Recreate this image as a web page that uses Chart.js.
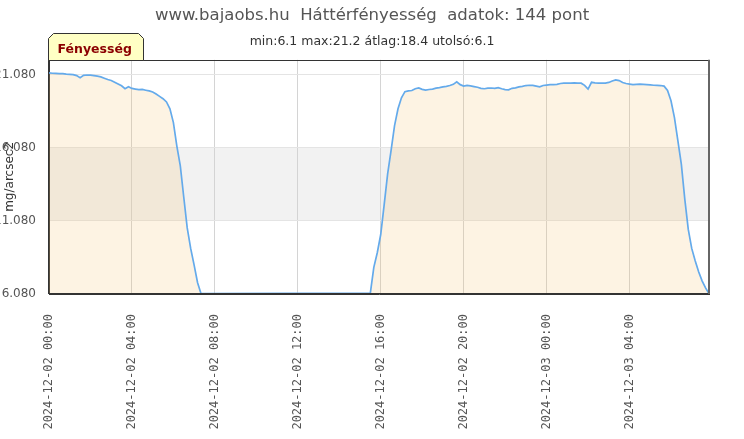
<!DOCTYPE html>
<html lang="hu">
<head>
  <meta charset="UTF-8">
  <title>Háttérfényesség</title>
  <script src="https://cdn.jsdelivr.net/npm/chart.js"></script>
  <style>
    html, body { margin: 0; padding: 0; background: #fff; }
  </style>
</head>
<body>
  <canvas id="graficoFenyesseg" width="744" height="439"></canvas>

  <script>
    // 2024-12-02: reggelig + délután 15:30-tól
    const day02Times = [
      "00:00", "00:10", "00:20", "00:30", "00:40", "00:50",
      "01:00", "01:10", "01:20", "01:30", "01:40", "01:50",
      "02:00", "02:10", "02:20", "02:30", "02:40", "02:50",
      "03:00", "03:10", "03:20", "03:30", "03:40", "03:50",
      "04:00", "04:10", "04:20", "04:30", "04:40", "04:50",
      "05:00", "05:10", "05:20", "05:30", "05:40", "05:50",
      "06:00", "06:10", "06:20", "06:30", "06:40", "06:50",
      "07:00", "07:10", "07:20",
      "15:30", "15:40", "15:50",
      "16:00", "16:10", "16:20", "16:30", "16:40", "16:50",
      "17:00", "17:10", "17:20", "17:30", "17:40", "17:50",
      "18:00", "18:10", "18:20", "18:30", "18:40", "18:50",
      "19:00", "19:10", "19:20", "19:30", "19:40", "19:50",
      "20:00", "20:10", "20:20", "20:30", "20:40", "20:50",
      "21:00", "21:10", "21:20", "21:30", "21:40", "21:50",
      "22:00", "22:10", "22:20", "22:30", "22:40", "22:50",
      "23:00", "23:10", "23:20", "23:30", "23:40", "23:50"
    ];
    const day02Values = [
      21.20, 21.18, 21.17, 21.15, 21.15, 21.12, 21.10, 21.08, 21.02, 20.88,
      21.04, 21.06, 21.05, 21.02, 20.98, 20.93, 20.84, 20.75, 20.68, 20.57,
      20.45, 20.32, 20.12, 20.26, 20.14, 20.10, 20.06, 20.07, 20.02, 19.97,
      19.90, 19.76, 19.60, 19.44, 19.22, 18.75, 17.80, 16.20, 14.85, 12.70,
      10.60, 9.20, 8.05, 6.85, 6.10,
      6.15, 7.90, 8.90, 10.15, 12.20, 14.30, 15.90, 17.60, 18.75, 19.50,
      19.92, 19.97, 20.00, 20.12, 20.18, 20.08, 20.03, 20.07, 20.10, 20.16,
      20.20, 20.25, 20.28, 20.34, 20.42, 20.60, 20.40, 20.30, 20.35, 20.32,
      20.27, 20.22, 20.15, 20.12, 20.16, 20.17, 20.15, 20.20, 20.12, 20.06,
      20.05, 20.15, 20.18, 20.25, 20.28, 20.34, 20.36, 20.35, 20.30, 20.25,
      20.34
    ];

    // 2024-12-03
    const day03Times = [
      "00:00", "00:10", "00:20", "00:30", "00:40", "00:50",
      "01:00", "01:10", "01:20", "01:30", "01:40", "01:50",
      "02:00", "02:10", "02:20", "02:30", "02:40", "02:50",
      "03:00", "03:10", "03:20", "03:30", "03:40", "03:50",
      "04:00", "04:10", "04:20", "04:30", "04:40", "04:50",
      "05:00", "05:10", "05:20", "05:30", "05:40", "05:50",
      "06:00", "06:10", "06:20", "06:30", "06:40", "06:50",
      "07:00", "07:10", "07:20", "07:30", "07:40", "07:50"
    ];
    const day03Values = [
      20.37, 20.40, 20.40, 20.42, 20.48, 20.50, 20.51, 20.51, 20.52, 20.51,
      20.50, 20.35, 20.10, 20.56, 20.52, 20.51, 20.50, 20.51, 20.55, 20.65,
      20.72, 20.68, 20.55, 20.48, 20.44, 20.40, 20.42, 20.44, 20.42, 20.40,
      20.38, 20.36, 20.35, 20.34, 20.30, 20.00, 19.30, 18.15, 16.55, 14.95,
      12.55, 10.50, 9.20, 8.35, 7.60, 6.98, 6.50, 6.10
    ];

    const yTicks = [6.08, 11.08, 16.08, 21.08];
    const xTickHours = [0, 4, 8, 12, 16, 20, 24, 28];
    const xTickLabels = [
      "2024-12-02 00:00", "2024-12-02 04:00", "2024-12-02 08:00", "2024-12-02 12:00",
      "2024-12-02 16:00", "2024-12-02 20:00", "2024-12-03 00:00", "2024-12-03 04:00"
    ];

    function toHours(day, hhmm) {
      const p = hhmm.split(":");
      return day * 24 + Number(p[0]) + Number(p[1]) / 60;
    }

    const pontok = [];
    for (let i = 0; i < day02Times.length; i++) {
      pontok.push({ x: toHours(0, day02Times[i]), y: day02Values[i] });
    }
    for (let i = 0; i < day03Times.length; i++) {
      pontok.push({ x: toHours(1, day03Times[i]), y: day03Values[i] });
    }

    // szürke sáv a rácsvonalak között
    const savok = {
      id: "savok",
      beforeDraw(chart) {
        const ctx = chart.ctx;
        const a = chart.chartArea;
        const y = chart.scales.y;
        ctx.save();
        ctx.fillStyle = "#f2f2f2";
        for (let i = 1; i < yTicks.length - 1; i += 2) {
          const top = y.getPixelForValue(yTicks[i + 1]);
          const bottom = y.getPixelForValue(yTicks[i]);
          ctx.fillRect(a.left, top, a.right - a.left, bottom - top);
        }
        ctx.restore();
      }
    };

    // keret + "Fényesség" fül
    const keret = {
      id: "keret",
      afterDraw(chart) {
        const ctx = chart.ctx;
        const a = chart.chartArea;
        ctx.save();
        ctx.strokeStyle = "#333";
        ctx.lineWidth = 1;
        ctx.strokeRect(Math.round(a.left) - 0.5, Math.round(a.top) + 0.5,
          Math.round(a.right - a.left), Math.round(a.bottom - a.top) - 1);
        ctx.strokeStyle = "#666";
        ctx.lineWidth = 2;
        ctx.beginPath();
        ctx.moveTo(Math.round(a.right), a.top);
        ctx.lineTo(Math.round(a.right), a.bottom);
        ctx.stroke();

        const l = Math.round(a.left) - 0.5, t = Math.round(a.top) + 0.5;
        ctx.beginPath();
        ctx.moveTo(l, t);
        ctx.lineTo(l, t - 22);
        ctx.lineTo(l + 5, t - 27);
        ctx.lineTo(l + 90, t - 27);
        ctx.lineTo(l + 95, t - 22);
        ctx.lineTo(l + 95, t);
        ctx.closePath();
        ctx.fillStyle = "#ffffc4";
        ctx.fill();
        ctx.strokeStyle = "#333";
        ctx.lineWidth = 1;
        ctx.stroke();
        ctx.fillStyle = "#8b0000";
        ctx.font = "bold 12.5px 'DejaVu Sans'";
        ctx.textBaseline = "middle";
        ctx.textAlign = "left";
        ctx.fillText("Fényesség", l + 9, t - 11);
        ctx.restore();
      }
    };

    const ctx = document.getElementById("graficoFenyesseg").getContext("2d");
    const myChart = new Chart(ctx, {
      type: "line",
      data: {
        datasets: [{
          label: "Fényesség",
          data: pontok,
          borderColor: "#64aaeb",
          borderWidth: 1.7,
          backgroundColor: "rgba(245, 195, 115, 0.2)",
          fill: "start",
          pointRadius: 0,
          tension: 0
        }]
      },
      options: {
        responsive: false,
        animation: false,
        layout: { padding: 0 },
        plugins: {
          legend: { display: false },
          tooltip: { enabled: false },
          title: {
            display: true,
            text: "www.bajaobs.hu  Háttérfényesség  adatok: 144 pont",
            color: "#555",
            font: { family: "DejaVu Sans", size: 16.5, weight: "normal" },
            padding: { top: 6, bottom: 5 }
          },
          subtitle: {
            display: true,
            text: "min:6.1 max:21.2 átlag:18.4 utolsó:6.1",
            color: "#333",
            font: { family: "DejaVu Sans", size: 12.5 },
            padding: { top: 3, bottom: 11 }
          }
        },
        scales: {
          x: {
            type: "linear",
            min: 0,
            max: toHours(1, day03Times[day03Times.length - 1]),
            afterBuildTicks: s => { s.ticks = xTickHours.map(v => ({ value: v })); },
            afterFit: s => { s.height = 145; },
            ticks: {
              autoSkip: false,
              minRotation: 90,
              maxRotation: 90,
              padding: 20,
              color: "#555",
              font: { family: "DejaVu Sans Mono", size: 12 },
              callback: v => xTickLabels[xTickHours.indexOf(v)]
            },
            grid: { color: "#d4d4d4", drawTicks: false },
            border: { color: "#333" }
          },
          y: {
            min: 6.08,
            max: 22.1,
            afterBuildTicks: s => { s.ticks = yTicks.map(v => ({ value: v })); },
            afterFit: s => { s.width = 49; },
            ticks: {
              padding: 13,
              color: "#555",
              font: { family: "DejaVu Sans", size: 12 },
              callback: v => v.toFixed(3)
            },
            grid: { color: "#e4e4e4", drawTicks: false },
            border: { color: "#333" },
            title: {
              display: true,
              text: "mg/arcsec2",
              color: "#333",
              font: { family: "DejaVu Sans", size: 12 },
              padding: 3
            }
          },
          // üres jobb oldali sáv, hogy a cím a teljes szélességre legyen középre igazítva
          jobb: {
            position: "right",
            min: 0,
            max: 1,
            afterFit: s => { s.width = 35; },
            ticks: { display: false },
            grid: { display: false, drawTicks: false },
            border: { display: false }
          }
        }
      },
      plugins: [savok, keret]
    });
  </script>
</body>
</html>
